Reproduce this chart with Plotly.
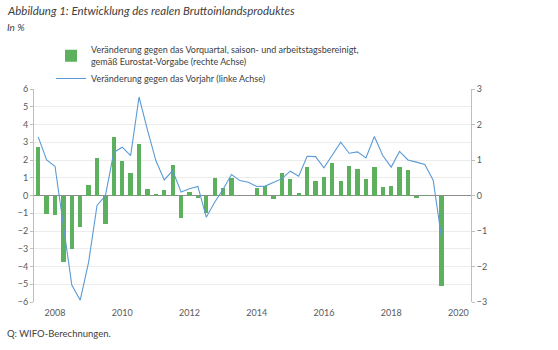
import plotly.graph_objects as go

quarters = [f"{y}Q{q}" for y in range(2008, 2021) for q in range(1, 5)][:49]

# Veränderung gegen das Vorquartal (rechte Achse), %
qoq = [1.36, -0.52, -0.55, -1.88, -1.52, -0.89, 0.31, 1.05, -0.80, 1.64,
       0.96, 0.64, 1.46, 0.19, 0.02, 0.16, 0.87, -0.64, 0.10, -0.08,
       -0.50, 0.50, 0.21, 0.48, 0.00, 0.00, 0.21, 0.27, -0.10, 0.64,
       0.47, 0.08, 0.81, 0.41, 0.53, 0.92, 0.41, 0.84, 0.74, 0.46,
       0.79, 0.24, 0.28, 0.81, 0.72, -0.07, 0.01, 0.00, -2.56]

# Veränderung gegen das Vorjahr (linke Achse), %
yoy = [3.30, 2.00, 1.65, -1.60, -5.05, -5.90, -3.75, -0.56, 0.00, 2.44,
       2.72, 2.25, 5.55, 3.70, 1.97, 0.88, 1.40, 0.19, 0.38, 0.51,
       -1.22, -0.38, 0.35, 1.18, 0.84, 0.75, 0.51, 0.53, 0.75, 0.95,
       1.37, 1.09, 2.21, 2.19, 1.56, 2.30, 3.00, 2.38, 2.46, 2.12,
       3.32, 2.25, 1.60, 2.48, 2.00, 1.88, 1.75, 0.86, -2.40]

year_ticks = ["2008", "2010", "2012", "2014", "2016", "2018", "2020"]

def qpos(label):
    y, q = label.split("Q")
    return int(y) + (int(q) - 0.5) / 4

xs = [qpos(s) for s in quarters]
tickpos = [int(t) + 0.625 for t in year_ticks]

FONT = "Lato"
GRAY = "#595959"

fig = go.Figure()
fig.add_trace(go.Bar(
    x=xs, y=qoq, width=0.128, marker_color="#5DB05D", marker_line_width=0,
    name="Veränderung gegen das Vorquartal, saison- und arbeitstagsbereinigt,<br>gemäß Eurostat-Vorgabe (rechte Achse)",
    yaxis="y",
))
fig.add_trace(go.Scatter(
    x=xs, y=yoy, mode="lines", line=dict(color="#5B9BD5", width=1.1),
    name="Veränderung gegen das Vorjahr (linke Achse)",
    yaxis="y2",
))

fig.update_layout(
    width=558, height=350,
    margin=dict(l=34, r=87, t=88.5, b=48.3),
    paper_bgcolor="white", plot_bgcolor="white",
    font=dict(family=FONT, size=9, color=GRAY),
    showlegend=True,
    bargap=0,
    legend=dict(
        x=(51 - 34) / 437, y=(301.7 - 37) / 213.2, xanchor="left", yanchor="top",
        font=dict(family=FONT, size=9, color="#404040"),
        bgcolor="rgba(0,0,0,0)", itemwidth=30, tracegroupgap=0,
    ),
    xaxis=dict(
        range=[2008, 2021], tickvals=tickpos, ticktext=year_ticks,
        showgrid=False, zeroline=False, showline=False, ticks="",
        ticklabelstandoff=4,
        tickfont=dict(family=FONT, size=9, color=GRAY),
    ),
    yaxis=dict(
        side="right", range=[-3, 3], dtick=1, tick0=0,
        showgrid=False, zeroline=False,
        showline=True, linecolor="#BFBFBF", linewidth=1,
        ticks="outside", ticklen=3, tickcolor="#BFBFBF",
        tickfont=dict(family=FONT, size=9, color=GRAY),
    ),
    yaxis2=dict(
        side="left", overlaying="y", range=[-6, 6], dtick=1, tick0=0,
        showgrid=True, gridcolor="#ECECEC", gridwidth=1,
        zeroline=True, zerolinecolor="#8C8C8C", zerolinewidth=1,
        showline=True, linecolor="#BFBFBF", linewidth=1,
        ticks="outside", ticklen=3, tickcolor="#BFBFBF",
        tickfont=dict(family=FONT, size=9, color=GRAY),
    ),
)

fig.add_annotation(
    text="<i>Abbildung 1: Entwicklung des realen Bruttoinlandsproduktes</i>",
    xref="paper", yref="paper", x=(5 - 34) / 437, y=(301.7 - 1) / 213.2,
    xanchor="left", yanchor="top", showarrow=False,
    font=dict(family=FONT, size=11.5, color="#404040"),
)
fig.add_annotation(
    text="<i>In %</i>",
    xref="paper", yref="paper", x=(5 - 34) / 437, y=(301.7 - 18) / 213.2,
    xanchor="left", yanchor="top", showarrow=False,
    font=dict(family=FONT, size=10, color="#404040"),
)
fig.add_annotation(
    text="Q: WIFO-Berechnungen.",
    xref="paper", yref="paper", x=(5 - 34) / 437, y=(301.7 - 326) / 213.2,
    xanchor="left", yanchor="top", showarrow=False,
    font=dict(family=FONT, size=9.5, color="#404040"),
)

fig.write_html("out.html")
